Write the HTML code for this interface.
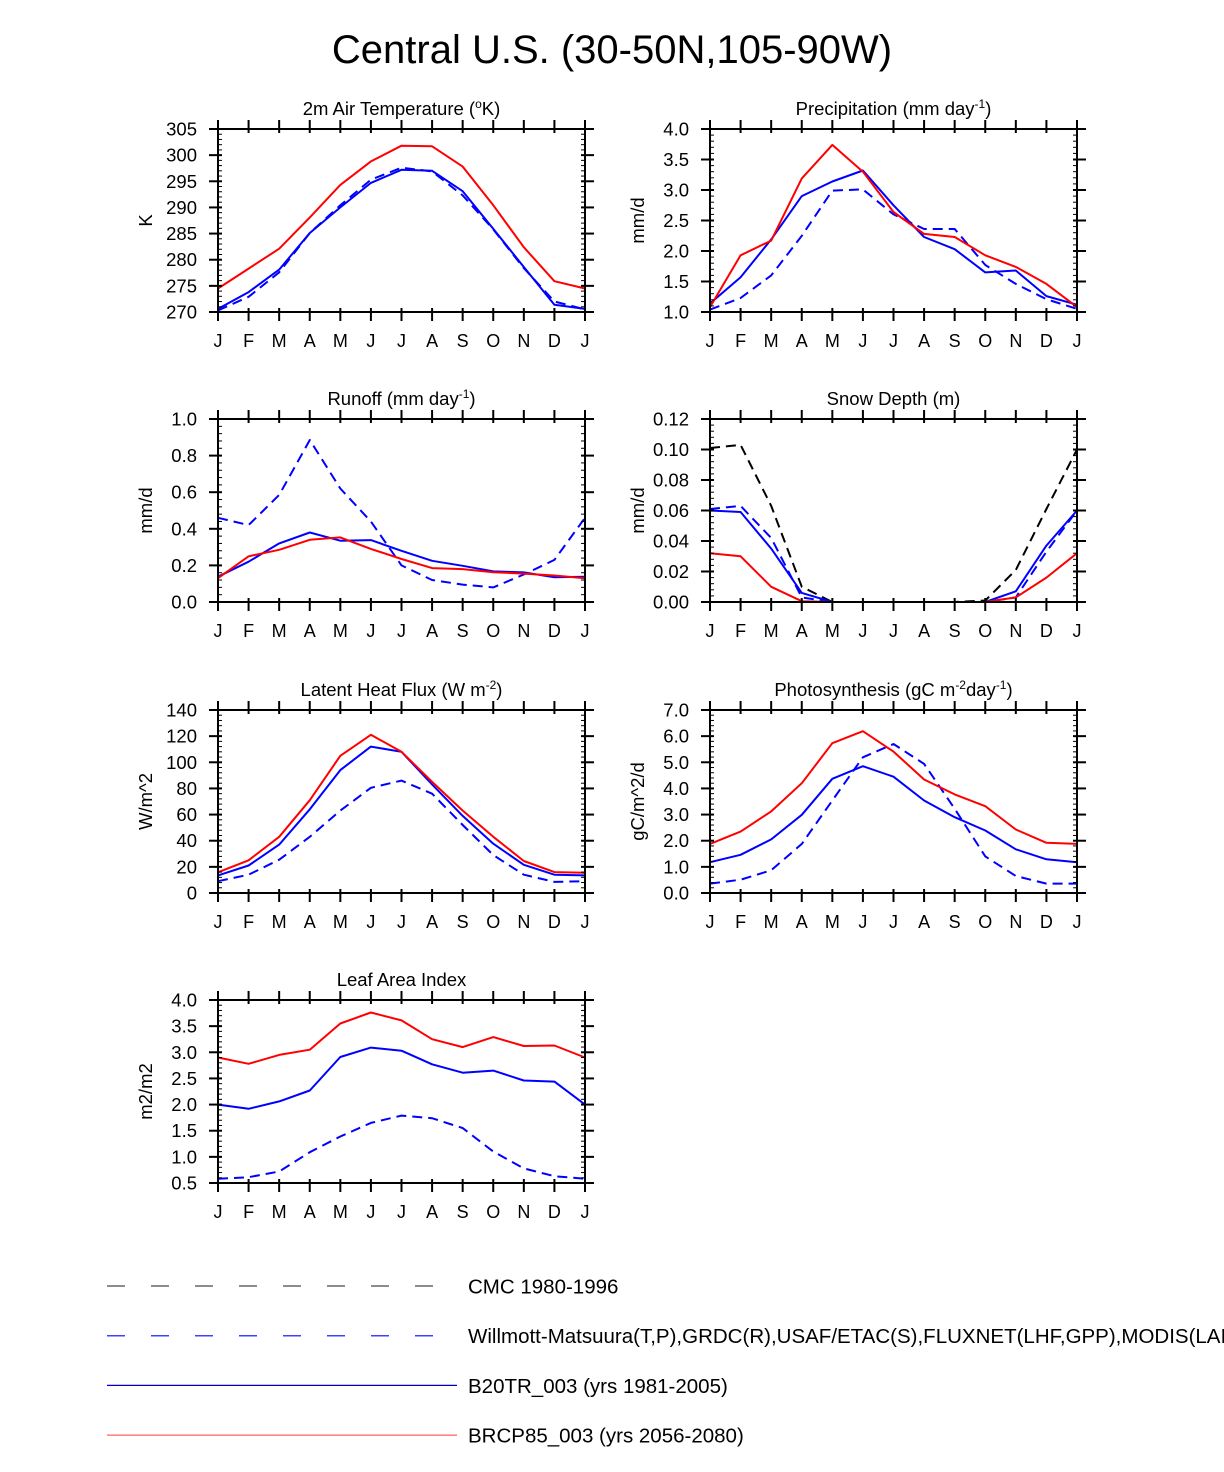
<!DOCTYPE html>
<html><head><meta charset="utf-8"><style>
html,body{margin:0;padding:0;background:#fff;}
svg{display:block;font-family:"Liberation Sans",sans-serif;}
</style></head><body>
<svg id="fig" width="1224" height="1472" viewBox="0 0 1224 1472">
<text x="612" y="63" font-size="40" text-anchor="middle">Central U.S. (30-50N,105-90W)</text>
</svg>
<script>
const months = ["J","F","M","A","M","J","J","A","S","O","N","D","J"];
// Temperature
const tRed  = [274.5,278.3,282.1,288.1,294.3,298.8,301.8,301.7,297.8,290.4,282.4,275.9,274.5];
const tBlue = [270.6,273.8,278.1,285.1,290.0,294.7,297.2,297.0,293.1,285.9,278.6,271.4,270.6];
const tObs  = [270.3,272.9,277.6,285.1,290.4,295.3,297.6,296.9,292.3,285.8,278.4,272.0,270.5];
const tTicks = ["270","275","280","285","290","295","300","305"];
// Precipitation
const pRed  = [1.08,1.93,2.17,3.19,3.74,3.30,2.64,2.28,2.23,1.93,1.74,1.46,1.08];
const pBlue = [1.14,1.57,2.19,2.90,3.14,3.32,2.75,2.23,2.03,1.65,1.68,1.26,1.12];
const pObs  = [1.04,1.23,1.60,2.25,2.99,3.01,2.60,2.36,2.36,1.77,1.46,1.21,1.05];
const pTicks = ["1.0","1.5","2.0","2.5","3.0","3.5","4.0"];
// Runoff
const rRed  = [0.13,0.25,0.285,0.34,0.353,0.29,0.235,0.185,0.18,0.163,0.155,0.145,0.13];
const rBlue = [0.138,0.22,0.32,0.38,0.335,0.338,0.28,0.225,0.198,0.167,0.162,0.135,0.138];
const rObs  = [0.46,0.42,0.585,0.885,0.62,0.44,0.20,0.12,0.095,0.08,0.15,0.23,0.46];
const rTicks = ["0.0","0.2","0.4","0.6","0.8","1.0"];
// Snow depth
const sRed  = [0.032,0.030,0.010,0.0005,0,0,0,0,0,0,0.003,0.016,0.032];
const sBlue = [0.060,0.059,0.035,0.006,0,0,0,0,0,0,0.007,0.037,0.060];
const sObs  = [0.061,0.063,0.042,0.003,0,0,0,0,0,0,0.003,0.033,0.060];
const sCmc  = [0.101,0.103,0.063,0.010,0,0,0,0,0,0.001,0.021,0.061,0.100];
const sTicks = ["0.00","0.02","0.04","0.06","0.08","0.10","0.12"];
// Latent heat
const lRed  = [15.8,25,43,71,105,121,108,85,63,43,24.5,16,15.5];
const lBlue = [13.5,21,37,64,94,112,108,83,59,37.7,21.6,14,13.5];
const lObs  = [9,14,25.5,43,63,80.5,86,76,52,29,14,8.5,9];
const lTicks = ["0","20","40","60","80","100","120","140"];
// Photosynthesis
const gRed  = [1.88,2.35,3.12,4.2,5.73,6.19,5.41,4.34,3.77,3.32,2.43,1.92,1.88];
const gBlue = [1.18,1.46,2.05,2.99,4.37,4.85,4.45,3.54,2.90,2.39,1.67,1.29,1.18];
const gObs  = [0.36,0.51,0.87,1.88,3.54,5.19,5.70,4.94,3.22,1.40,0.65,0.36,0.36];
const gTicks = ["0.0","1.0","2.0","3.0","4.0","5.0","6.0","7.0"];
// LAI
const aRed  = [2.90,2.78,2.95,3.05,3.55,3.76,3.61,3.25,3.10,3.29,3.12,3.13,2.90];
const aBlue = [2.0,1.92,2.06,2.27,2.91,3.09,3.03,2.77,2.61,2.65,2.46,2.44,2.0];
const aObs  = [0.58,0.61,0.72,1.09,1.39,1.65,1.79,1.74,1.55,1.10,0.78,0.63,0.58];
const aTicks = ["0.5","1.0","1.5","2.0","2.5","3.0","3.5","4.0"];

const NS = "http://www.w3.org/2000/svg";
const svg = document.getElementById("fig");
function mk(tag, attrs, parent){
  const e = document.createElementNS(NS, tag);
  for (const k in attrs) e.setAttribute(k, attrs[k]);
  (parent||svg).appendChild(e);
  return e;
}
function panel(id, x0, y0, titleHTML, ylab, ticks, minorPer, series){
  const W = 367, H = 183;
  const g = mk("g", {});
  
  
  const ymin = parseFloat(ticks[0]), ymax = parseFloat(ticks[ticks.length-1]);
  const xs = i => x0 + i * W / 12;
  const ys = v => y0 + H - (v - ymin) / (ymax - ymin) * H;
  series.forEach(s => {
    const pts = s.data.map((v,i) => xs(i).toFixed(1) + "," + ys(v).toFixed(1)).join(" ");
    const pl = mk("polyline", {points: pts, fill: "none", stroke: s.color, "stroke-width": 2, "stroke-linejoin": "round"}, g);
    if (s.dash) pl.setAttribute("stroke-dasharray", "10,6");
    
    
  });
  const fr = mk("rect", {x: x0, y: y0, width: W, height: H, fill: "none", stroke: "#000", "stroke-width": 2}, g);
  
  
  months.forEach((m,i) => {
    const x = xs(i);
    mk("line", {x1: x, x2: x, y1: y0 + H - 4, y2: y0 + H + 9, stroke: "#000", "stroke-width": 2}, g);
    mk("line", {x1: x, x2: x, y1: y0 - 9, y2: y0 + 4, stroke: "#000", "stroke-width": 2}, g);
    const t = mk("text", {x: x, y: y0 + H + 35, "font-size": 18, "text-anchor": "middle"}, g);
    t.textContent = m;
    
    
  });
  const n = ticks.length - 1;
  for (let k = 0; k <= n * minorPer; k++) {
    const y = y0 + H - k * H / (n * minorPer);
    if (k % minorPer === 0) {
      mk("line", {x1: x0 - 9, x2: x0 + 4, y1: y, y2: y, stroke: "#000", "stroke-width": 2}, g);
      mk("line", {x1: x0 + W - 4, x2: x0 + W + 9, y1: y, y2: y, stroke: "#000", "stroke-width": 2}, g);
      const t = mk("text", {x: x0 - 21, y: y + 6.5, "font-size": 18.5, "text-anchor": "end"}, g);
      t.textContent = ticks[k / minorPer];
      
      
    } else {
      mk("line", {x1: x0, x2: x0 + 4, y1: y, y2: y, stroke: "#000", "stroke-width": 1}, g);
      mk("line", {x1: x0 + W - 4, x2: x0 + W, y1: y, y2: y, stroke: "#000", "stroke-width": 1}, g);
    }
  }
  const tt = mk("text", {x: x0 + W/2, y: y0 - 14, "font-size": 18.5, "text-anchor": "middle"}, g);
  tt.innerHTML = titleHTML;
  
  
  const yl = mk("text", {x: 0, y: 0, "font-size": 18.5, "text-anchor": "middle", transform: "translate(" + (x0 - 66) + "," + (y0 + H/2) + ") rotate(-90)"}, g);
  yl.textContent = ylab;
  
  
}
const R = "#ff0000", B = "#0000ff", K = "#000000";
const sup = s => '<tspan dy="-7" font-size="12">' + s + '</tspan><tspan dy="7">';
panel("temperature", 218, 129, '2m Air Temperature (' + sup('o') + 'K)</tspan>', "K", tTicks, 5,
  [{name:"obs",data:tObs,color:B,dash:1},{name:"b20tr",data:tBlue,color:B},{name:"brcp85",data:tRed,color:R}]);
panel("precipitation", 710, 129, 'Precipitation (mm day' + sup('-1') + ')</tspan>', "mm/d", pTicks, 5,
  [{name:"obs",data:pObs,color:B,dash:1},{name:"b20tr",data:pBlue,color:B},{name:"brcp85",data:pRed,color:R}]);
panel("runoff", 218, 419, 'Runoff (mm day' + sup('-1') + ')</tspan>', "mm/d", rTicks, 5,
  [{name:"obs",data:rObs,color:B,dash:1},{name:"b20tr",data:rBlue,color:B},{name:"brcp85",data:rRed,color:R}]);
panel("snow-depth", 710, 419, 'Snow Depth (m)', "mm/d", sTicks, 5,
  [{name:"cmc",data:sCmc,color:K,dash:1},{name:"obs",data:sObs,color:B,dash:1},{name:"b20tr",data:sBlue,color:B},{name:"brcp85",data:sRed,color:R}]);
panel("latent-heat", 218, 710, 'Latent Heat Flux (W m' + sup('-2') + ')</tspan>', "W/m^2", lTicks, 5,
  [{name:"obs",data:lObs,color:B,dash:1},{name:"b20tr",data:lBlue,color:B},{name:"brcp85",data:lRed,color:R}]);
panel("photosynthesis", 710, 710, 'Photosynthesis (gC m' + sup('-2') + 'day' + '<tspan dy="-7" font-size="12">-1</tspan><tspan dy="7">)</tspan></tspan>', "gC/m^2/d", gTicks, 5,
  [{name:"obs",data:gObs,color:B,dash:1},{name:"b20tr",data:gBlue,color:B},{name:"brcp85",data:gRed,color:R}]);
panel("lai", 218, 1000, 'Leaf Area Index', "m2/m2", aTicks, 5,
  [{name:"obs",data:aObs,color:B,dash:1},{name:"b20tr",data:aBlue,color:B},{name:"brcp85",data:aRed,color:R}]);

const legLabels = ["CMC 1980-1996","Willmott-Matsuura(T,P),GRDC(R),USAF/ETAC(S),FLUXNET(LHF,GPP),MODIS(LAI)","B20TR_003 (yrs 1981-2005)","BRCP85_003 (yrs 2056-2080)"];
const legColors = ["#666666","#4040ff","#0000cc","#ff6060"];
const legDash = [1,1,0,0];
const legNames = ["cmc","obs","b20tr","brcp85"];
legLabels.forEach((lab,i) => {
  const y = 1286 + i * 49.7;
  const ln = mk("line", {x1: 107, x2: legDash[i] ? 445 : 457, y1: y, y2: y, stroke: legColors[i], "stroke-width": legDash[i] ? 1.5 : 1.3});
  if (legDash[i]) ln.setAttribute("stroke-dasharray", "18,26");
  
  
  const t = mk("text", {x: 468, y: y + 7.5, "font-size": 20.5});
  t.textContent = lab;
  
  
});
</script>
</body></html>
